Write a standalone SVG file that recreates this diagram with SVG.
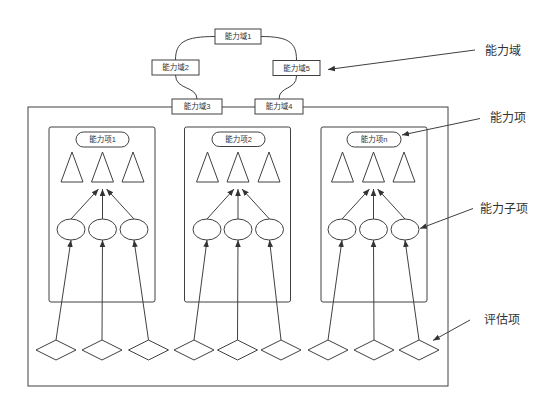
<svg xmlns="http://www.w3.org/2000/svg" width="554" height="405" viewBox="0 0 554 405">
<style>
.s{fill:#fff;stroke:#404040;stroke-width:1}
.c{fill:none;stroke:#404040;stroke-width:1}
.a{fill:none;stroke:#404040;stroke-width:1;marker-end:url(#ah)}
.t{font-family:"Liberation Sans","Noto Sans CJK SC",sans-serif;font-size:7.5px;fill:#333;text-anchor:middle;dominant-baseline:central}
.L{font-family:"Liberation Sans","Noto Sans CJK SC",sans-serif;font-size:12px;fill:#333;dominant-baseline:central}
</style>
<defs>
<marker id="ah" viewBox="0 0 10 10" refX="10" refY="5" markerWidth="7" markerHeight="7" markerUnits="userSpaceOnUse" orient="auto">
<path d="M0,1 L10,5 L0,9 Z" fill="#333"/>
</marker>
<polygon id="tri" points="0,0 11,30 -11,30" class="s"/>
<ellipse id="ell" cx="0" cy="0" rx="14" ry="10.5" class="s"/>
<polygon id="dia" points="0,-10 20,0 0,10 -20,0" class="s"/>
</defs>
<rect width="554" height="405" fill="#fff"/>
<g id="outer"><rect x="28" y="107" width="420" height="279" class="c" stroke-width="1.2"/></g>
<g id="connectors">
<path class="c" d="M215,36.5 C185,36.5 175.5,42 175.5,60"/>
<path class="c" d="M261,36.5 C288,36.5 296.5,42 296.5,60"/>
<path class="c" d="M175.5,75 C175.5,90 197,86 197,99"/>
<path class="c" d="M296.5,76 C296.5,90 279,86 279,99"/>
<!-- callouts -->
<line class="a" x1="475" y1="50" x2="328" y2="69.5"/>
<line class="a" x1="480" y1="118.5" x2="402" y2="135"/>
<line class="a" x1="473" y1="208.5" x2="420" y2="228.5"/>
<line class="a" x1="470" y1="320" x2="433" y2="340.5"/>
<!-- group 1 -->
<line class="a" x1="71" y1="219" x2="98.5" y2="189"/>
<line class="a" x1="102.5" y1="219" x2="102.5" y2="189"/>
<line class="a" x1="134" y1="219" x2="106.5" y2="189"/>
<line class="a" x1="56" y1="340" x2="71" y2="240"/>
<line class="a" x1="102" y1="340" x2="102.5" y2="240"/>
<line class="a" x1="148.5" y1="340" x2="134" y2="240"/>
<!-- group 2 -->
<line class="a" x1="207" y1="219" x2="234" y2="189"/>
<line class="a" x1="238" y1="219" x2="238" y2="189"/>
<line class="a" x1="269.5" y1="219" x2="242" y2="189"/>
<line class="a" x1="194" y1="340" x2="207" y2="240"/>
<line class="a" x1="237.5" y1="340" x2="238" y2="240"/>
<line class="a" x1="281" y1="340" x2="269.5" y2="240"/>
<!-- group 3 -->
<line class="a" x1="342" y1="219" x2="369.5" y2="189"/>
<line class="a" x1="373.5" y1="219" x2="373.5" y2="189"/>
<line class="a" x1="405" y1="219" x2="377.5" y2="189"/>
<line class="a" x1="328" y1="340" x2="342" y2="240"/>
<line class="a" x1="374" y1="340" x2="373.5" y2="240"/>
<line class="a" x1="419" y1="340" x2="405" y2="240"/>
</g>
<g id="domain1"><rect x="215" y="29" width="46" height="15" class="s"/><text class="t" x="238" y="36.5">能力域1</text></g>
<g id="domain2"><rect x="152" y="60" width="47" height="15" class="s"/><text class="t" x="175.5" y="67.5">能力域2</text></g>
<g id="domain5"><rect x="273" y="60.5" width="47" height="15" class="s"/><text class="t" x="296.5" y="68">能力域5</text></g>
<g id="domain3"><rect x="172" y="99" width="50" height="15" class="s"/><text class="t" x="197" y="106.5">能力域3</text></g>
<g id="domain4"><rect x="255" y="99" width="48" height="15" class="s"/><text class="t" x="279" y="106.5">能力域4</text></g>
<g id="item1">
<rect x="49" y="127" width="106" height="175" rx="2" class="c"/>
<rect x="76" y="132" width="53" height="15" rx="7.5" class="s"/><text class="t" x="102.5" y="139.5">能力项1</text>
<use href="#tri" x="72" y="152"/><use href="#tri" x="102.5" y="152"/><use href="#tri" x="133" y="152"/>
<use href="#ell" x="71" y="229.5"/><use href="#ell" x="102.5" y="229.5"/><use href="#ell" x="134" y="229.5"/>
<use href="#dia" x="56" y="350"/><use href="#dia" x="102" y="350"/><use href="#dia" x="148.5" y="350"/>
</g>
<g id="item2">
<rect x="184.5" y="127" width="106" height="175" rx="2" class="c"/>
<rect x="212" y="132" width="53" height="14.5" rx="7.25" class="s"/><text class="t" x="238.5" y="139.2">能力项2</text>
<use href="#tri" x="207.5" y="152"/><use href="#tri" x="238" y="152"/><use href="#tri" x="269" y="152"/>
<use href="#ell" x="207" y="229.5"/><use href="#ell" x="238" y="229.5"/><use href="#ell" x="269.5" y="229.5"/>
<use href="#dia" x="194" y="350"/><use href="#dia" x="237.5" y="350"/><use href="#dia" x="281" y="350"/>
</g>
<g id="itemn">
<rect x="321" y="127" width="106" height="175" rx="2" class="c"/>
<rect x="347" y="132" width="54" height="15" rx="7.5" class="s"/><text class="t" x="374" y="139.5">能力项n</text>
<use href="#tri" x="342.5" y="152"/><use href="#tri" x="373.5" y="152"/><use href="#tri" x="404" y="152"/>
<use href="#ell" x="342" y="229.5"/><use href="#ell" x="373.5" y="229.5"/><use href="#ell" x="405" y="229.5"/>
<use href="#dia" x="328" y="350"/><use href="#dia" x="374" y="350"/><use href="#dia" x="419" y="350"/>
</g>
<g id="labels">
<text class="L" x="485" y="51">能力域</text>
<text class="L" x="490" y="118">能力项</text>
<text class="L" x="480" y="209">能力子项</text>
<text class="L" x="484" y="320">评估项</text>
</g>
</svg>
